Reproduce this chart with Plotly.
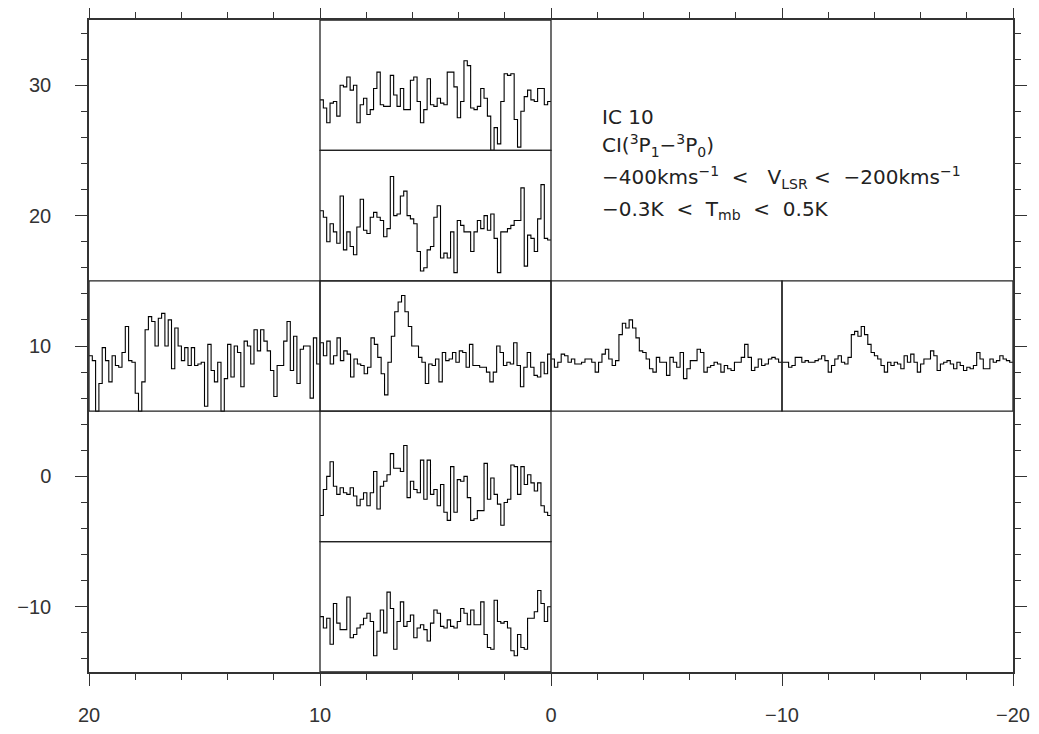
import numpy as np
import plotly.graph_objects as go

# ---------------- data (Tmb in K, channels from -400 to -200 km/s) ----------------
v_min, v_max = -400.0, -200.0
t_min, t_max = -0.3, 0.5

spec_x5_y30 = [0.01, -0.04, -0.13, -0.01, 0.00, -0.09, 0.10, 0.09, 0.15, 0.07, 0.10, -0.13, -0.02, 0.02,
               -0.08, -0.05, 0.08, 0.18, -0.02, -0.03, -0.03, 0.16, 0.04, -0.03, 0.08, -0.05, -0.05, 0.13,
               0.15, 0.00, -0.13, -0.05, 0.14, -0.02, -0.03, 0.02, -0.01, -0.02, 0.18, 0.18, 0.09, -0.10,
               0.00, 0.25, 0.22, -0.04, -0.05, -0.03, 0.08, 0.02, -0.09, -0.35, -0.16, -0.26, 0.00, 0.17,
               0.16, 0.17, -0.11, -0.28, -0.06, 0.03, 0.07, 0.01, 0.00, 0.08, 0.08, -0.02, 0.00]

spec_x5_y20 = [0.13, 0.09, -0.06, 0.05, 0.00, -0.07, 0.22, -0.11, 0.00, -0.09, -0.14, 0.03, 0.20, 0.01,
               -0.01, 0.09, 0.12, 0.09, 0.07, -0.03, 0.02, 0.34, 0.10, 0.11, 0.22, 0.25, 0.10, 0.08, 0.05,
               -0.12, -0.24, -0.22, -0.11, -0.09, 0.09, 0.16, -0.16, -0.13, -0.16, 0.00, -0.25, 0.07, 0.04,
               0.00, 0.00, -0.12, 0.00, 0.07, 0.02, 0.10, 0.01, 0.11, -0.04, -0.25, 0.00, 0.00, 0.02, 0.04,
               0.07, 0.07, 0.27, -0.21, -0.02, -0.04, -0.12, 0.08, 0.29, -0.04, -0.05]

spec_x5_y10 = [0.12, 0.04, 0.13, -0.01, 0.04, 0.15, 0.01, 0.07, 0.05, -0.09, 0.02, -0.01, -0.02, -0.07,
               -0.03, 0.15, 0.11, 0.03, -0.07, -0.20, 0.00, 0.16, 0.31, 0.37, 0.41, 0.31, 0.22, 0.10, 0.10,
               0.03, 0.00, -0.13, -0.01, -0.02, 0.02, -0.12, 0.06, 0.01, 0.02, 0.06, 0.00, 0.07, 0.06, -0.03,
               0.11, -0.02, -0.02, -0.03, -0.03, -0.06, -0.12, -0.06, 0.10, 0.06, -0.02, 0.00, -0.01, 0.12,
               -0.02, -0.15, -0.03, 0.06, -0.03, -0.08, -0.09, 0.00, -0.07, 0.05]

spec_x15_y10 = [0.04, 0.01, -0.35, -0.13, 0.09, 0.01, -0.12, 0.04, -0.02, -0.03, 0.06, 0.22, 0.01, 0.00,
                -0.19, -0.35, -0.12, 0.20, 0.28, 0.25, 0.10, 0.27, 0.30, 0.10, 0.26, -0.04, 0.21, 0.10, 0.01,
                0.09, -0.02, 0.09, -0.02, -0.01, 0.00, -0.27, 0.11, -0.05, -0.12, 0.00, -0.35, -0.10, 0.11,
                -0.09, 0.10, 0.06, -0.15, 0.13, 0.10, -0.01, 0.20, 0.07, 0.20, 0.13, 0.07, -0.05, -0.21,
                -0.02, -0.02, 0.13, 0.25, -0.05, 0.16, -0.13, 0.08, 0.10, 0.10, -0.22, 0.15, -0.01]

spec_xm5_y10 = [0.02, -0.03, 0.00, 0.05, 0.04, 0.00, 0.02, -0.01, -0.01, 0.00, 0.02, 0.02, 0.00, -0.06,
                0.00, 0.05, 0.08, 0.02, -0.02, 0.01, 0.17, 0.24, 0.21, 0.26, 0.21, 0.15, 0.07, 0.06, 0.02,
                -0.04, -0.06, 0.03, 0.00, 0.00, -0.08, 0.03, 0.00, -0.03, 0.06, -0.10, -0.04, 0.01, 0.01,
                0.08, 0.06, -0.06, -0.03, -0.02, 0.00, -0.01, -0.06, -0.02, -0.04, -0.05, 0.00, 0.00, 0.03,
                0.11, 0.03, -0.05, -0.03, 0.02, -0.02, -0.01, 0.02, 0.03, 0.02, 0.00]

spec_xm15_y10 = [0.00, 0.00, -0.03, -0.02, 0.03, 0.03, 0.00, 0.01, 0.00, 0.00, 0.01, 0.02, 0.04, 0.01,
                 -0.06, -0.02, 0.02, 0.04, 0.00, -0.01, 0.03, 0.17, 0.19, 0.16, 0.22, 0.17, 0.11, 0.06, 0.04,
                 0.02, -0.02, -0.06, 0.00, -0.02, 0.00, -0.01, -0.04, 0.04, 0.00, 0.05, 0.00, -0.06, -0.01,
                 0.02, 0.02, 0.07, 0.04, -0.05, -0.01, 0.00, 0.01, -0.01, -0.04, 0.00, -0.02, -0.05, -0.03,
                 -0.04, -0.02, 0.06, 0.02, -0.04, -0.04, 0.02, 0.00, 0.01, 0.04, 0.02, 0.01, 0.00]

spec_x5_y0 = [-0.14, 0.02, 0.10, 0.19, 0.04, -0.01, 0.03, 0.00, -0.01, 0.03, -0.02, -0.08, -0.04, 0.00,
              -0.08, 0.00, 0.13, -0.10, 0.04, 0.07, 0.11, 0.24, 0.15, 0.15, 0.13, 0.29, -0.03, 0.07, 0.02,
              0.00, 0.20, -0.04, 0.20, -0.01, 0.02, -0.08, 0.05, -0.12, -0.17, 0.16, -0.12, 0.08, 0.07, 0.10,
              -0.03, -0.17, -0.16, -0.11, -0.11, 0.18, -0.04, 0.09, -0.01, -0.07, -0.20, -0.06, -0.04, 0.17,
              0.16, -0.01, 0.16, 0.05, 0.11, 0.06, 0.01, 0.06, -0.08, -0.12, -0.14]

spec_x5_ym10 = [0.04, -0.03, 0.03, -0.13, 0.12, 0.00, -0.04, -0.04, 0.16, -0.09, -0.07, -0.03, -0.01,
                0.03, 0.06, 0.01, -0.20, -0.05, 0.08, -0.06, 0.19, 0.09, -0.16, 0.01, 0.13, -0.02, 0.01, 0.05,
                -0.09, -0.03, -0.01, -0.04, -0.11, 0.00, 0.08, 0.06, -0.02, -0.03, 0.02, -0.02, -0.03, 0.01,
                0.09, 0.06, -0.01, 0.08, -0.01, -0.01, 0.13, -0.07, -0.15, -0.16, 0.14, 0.01, 0.00, 0.01,
                -0.03, -0.17, -0.20, -0.07, -0.15, -0.16, 0.03, 0.03, 0.07, 0.20, 0.12, 0.01, 0.10]

# map offsets (box centres) for each spectrum
spectra = [
    ((5, 30), spec_x5_y30),
    ((5, 20), spec_x5_y20),
    ((15, 10), spec_x15_y10),
    ((5, 10), spec_x5_y10),
    ((-5, 10), spec_xm5_y10),
    ((-15, 10), spec_xm15_y10),
    ((5, 0), spec_x5_y0),
    ((5, -10), spec_x5_ym10),
]

title_lines = [
    "IC 10",
    "CI(<sup>3</sup>P<sub>1</sub>\u2212<sup>3</sup>P<sub>0</sub>)",
    "\u2212400kms<sup>\u22121</sup>&nbsp;&nbsp;&lt;&nbsp;&nbsp;&nbsp;V<sub>LSR</sub>&nbsp;&lt;&nbsp;&nbsp;\u2212200kms<sup>\u22121</sup>",
    "\u22120.3K&nbsp;&nbsp;&lt;&nbsp;&nbsp;T<sub>mb</sub>&nbsp;&nbsp;&lt;&nbsp;&nbsp;0.5K",
]

# ---------------- figure ----------------
BOX = 10.0
fig = go.Figure()

for (xc, yc), vals in spectra:
    vals = np.clip(np.array(vals, dtype=float), t_min, t_max)
    n = len(vals)
    edges = np.linspace(v_min, v_max, n + 1)
    xs = (xc + BOX / 2) - (edges - v_min) / (v_max - v_min) * BOX
    ys_vals = (yc - BOX / 2) + (vals - t_min) / (t_max - t_min) * BOX
    ys = np.append(ys_vals, ys_vals[-1])
    fig.add_trace(go.Scatter(x=xs, y=ys, mode="lines", line=dict(color="black", width=1.1, shape="hv"),
                             hoverinfo="skip", showlegend=False))
    fig.add_shape(type="rect", xref="x", yref="y", x0=xc + BOX / 2, x1=xc - BOX / 2,
                  y0=yc - BOX / 2, y1=yc + BOX / 2, line=dict(color="#222", width=1.3), layer="above")

ann_y = [27.6, 25.4, 22.9, 20.4]
for txt, yv in zip(title_lines, ann_y):
    fig.add_annotation(x=-2.1, y=yv, xref="x", yref="y", text=txt, showarrow=False,
                       xanchor="left", yanchor="middle",
                       font=dict(family="DejaVu Sans", size=20, color="#222"))

def axis_style(standoff):
    return dict(
        ticks="outside", ticklen=12, tickwidth=1.2, tickcolor="#333",
        showline=True, linecolor="#333", linewidth=1.5, mirror="ticks",
        showgrid=False, zeroline=False, automargin=False,
        tickmode="linear", tick0=0, dtick=10,
        minor=dict(dtick=2, tick0=0, ticks="outside", ticklen=6, tickwidth=1.0,
                   tickcolor="#333", showgrid=False),
        tickfont=dict(family="Liberation Sans", size=20, color="#333"),
        ticklabelstandoff=standoff,
    )

# the page body has an 8 px margin, so the figure is sized to fit inside it
fig.update_layout(
    width=1023, height=718,
    margin=dict(l=81, r=18, t=12, b=54, autoexpand=False),
    paper_bgcolor="white", plot_bgcolor="white",
    xaxis=dict(range=[20, -20], **axis_style(12)),
    yaxis=dict(range=[-15, 35], **axis_style(20)),
)

fig.write_html("out.html")
